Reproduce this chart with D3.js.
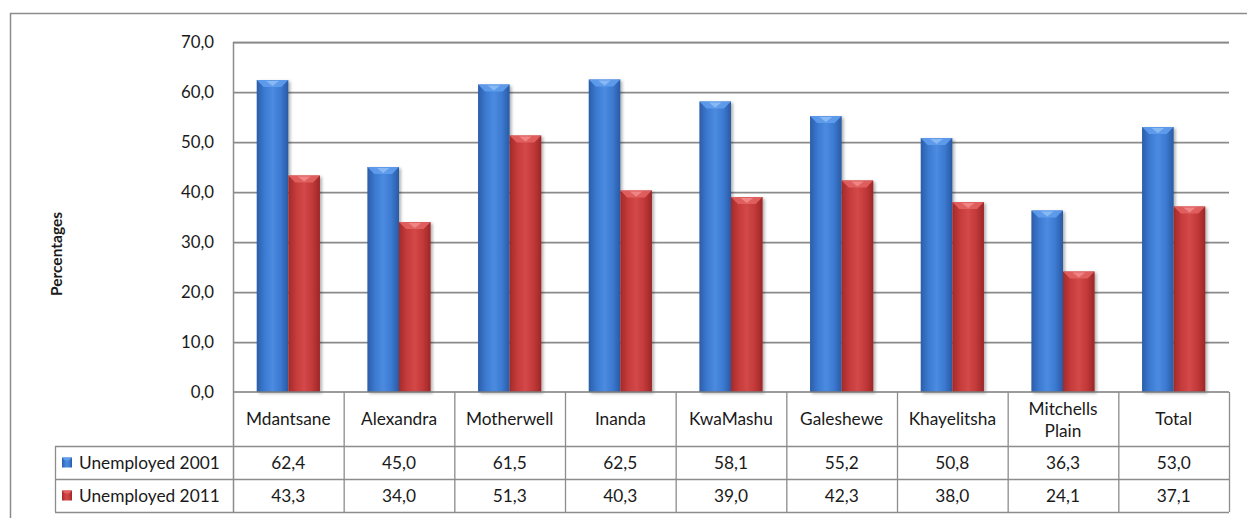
<!DOCTYPE html>
<html><head><meta charset="utf-8">
<script src="https://cdn.jsdelivr.net/npm/d3@7"></script>
<style>
html,body{margin:0;padding:0;background:#fff;}
svg{display:block;}
text{font-family:Lato,"Open Sans",sans-serif;fill:#1a1a1a;}
</style></head>
<body>
<svg id="chart" width="1247" height="518"></svg>
<script>
const categories = ["Mdantsane","Alexandra","Motherwell","Inanda","KwaMashu","Galeshewe","Khayelitsha","Mitchells Plain","Total"];
const seriesNames = ["Unemployed 2001","Unemployed 2011"];
const values2001 = [62.4,45.0,61.5,62.5,58.1,55.2,50.8,36.3,53.0];
const values2011 = [43.3,34.0,51.3,40.3,39.0,42.3,38.0,24.1,37.1];
const yTicks = [0,10,20,30,40,50,60,70];
const yTitle = "Percentages";

(function(){
const series = [values2001, values2011];
const svg = d3.select("#chart");
const pLeft = 233, pRight = 1229, pTop = 42, pBottom = 392;
const tableLeft = 55, row1 = 446, row2 = 479, row3 = 512;
const fs = "17.3px";
const loc = d3.formatLocale({decimal:",", thousands:".", grouping:[3], currency:["",""]});
const fmt = loc.format(".1f");

const defs = svg.append("defs");
const palettes = [
  {id:"gBlue", stops:["#2b5da8","#3c7ad2","#4b8be0","#3c7ad2","#2a5aa2"], bevel:"#609ded", bevelTip:"#93c0f4"},
  {id:"gRed", stops:["#a32a2a","#c63b3b","#d34848","#c33939","#9c2727"], bevel:"#e26262", bevelTip:"#f28e8e"}
];
palettes.forEach(p=>{
  const g = defs.append("linearGradient").attr("id",p.id).attr("x1","0").attr("x2","1").attr("y1","0").attr("y2","0");
  p.stops.forEach((c,i)=>g.append("stop").attr("offset",(i/(p.stops.length-1)*100)+"%").attr("stop-color",c));
});
const f = defs.append("filter").attr("id","shadow").attr("x","-20%").attr("y","-5%").attr("width","150%").attr("height","115%");
f.append("feDropShadow").attr("dx",2).attr("dy",1.5).attr("stdDeviation",1.8).attr("flood-color","#000").attr("flood-opacity",0.3);

// outer border
svg.append("rect").attr("x",10.5).attr("y",13.5).attr("width",1260).attr("height",530)
  .attr("fill","none").attr("stroke","#8c8c8c").attr("stroke-width",1.5);

const x0 = d3.scaleBand().domain(categories).range([pLeft,pRight]).padding(0);
const x1 = d3.scaleBand().domain(seriesNames).range([0,x0.bandwidth()]).paddingInner(0).paddingOuter(0.75);
const y = d3.scaleLinear().domain([0,70]).range([pBottom,pTop]);

// gridlines
const grid = svg.append("g");
yTicks.filter(t=>t>0).forEach(t=>{
  grid.append("line").attr("x1",pLeft).attr("x2",pRight).attr("y1",y(t)+1.5).attr("y2",y(t)+1.5)
    .attr("stroke","#d8d8d8").attr("stroke-width",1);
  grid.append("line").attr("x1",pLeft).attr("x2",pRight).attr("y1",y(t)+0.5).attr("y2",y(t)+0.5)
    .attr("stroke","#8a8a8a").attr("stroke-width",1.3);
});

// y axis labels
const yAxis = d3.axisLeft(y).tickValues(yTicks).tickFormat(fmt).tickSize(0).tickPadding(0);
const ya = svg.append("g").attr("transform",`translate(214,0)`).call(yAxis);
ya.select(".domain").remove();
ya.selectAll("text").style("font-family","Lato,sans-serif").style("font-size","16.8px").attr("fill","#1a1a1a").attr("dy","0.35em");

// bars
series.forEach((vals,si)=>{
  const p = palettes[si];
  const g = svg.append("g");
  categories.forEach((c,i)=>{
    const bx = x0(c)+x1(seriesNames[si]);
    const bw = x1.bandwidth();
    const by = y(vals[i]);
    const bh = y(0)-by;
    g.append("rect").attr("x",bx).attr("y",by).attr("width",bw).attr("height",bh)
      .attr("fill",`url(#${p.id})`).attr("filter","url(#shadow)");
    const bv = 7;
    g.append("path").attr("d",`M${bx},${by} L${bx+bw},${by} L${bx+bw-bv},${by+bv} L${bx+bv},${by+bv} Z`)
      .attr("fill",p.bevel).attr("opacity",0.9);
    g.append("path").attr("d",`M${bx+bw*0.3},${by+1} L${bx+bw*0.7},${by+1} L${bx+bw*0.5},${by+bv-1} Z`)
      .attr("fill",p.bevelTip).attr("opacity",0.8);
  });
});

// table
const tcol = "#8c8c8c";
const tg = svg.append("g");
tg.append("line").attr("x1",pLeft).attr("x2",pRight).attr("y1",pBottom).attr("y2",pBottom).attr("stroke","#7a7a7a").attr("stroke-width",1.5);
[row1,row2,row3].forEach(yy=>{
  tg.append("line").attr("x1",tableLeft).attr("x2",pRight).attr("y1",yy+0.5).attr("y2",yy+0.5).attr("stroke",tcol).attr("stroke-width",1.3);
});
tg.append("line").attr("x1",pLeft+0.5).attr("x2",pLeft+0.5).attr("y1",pTop).attr("y2",row3).attr("stroke",tcol).attr("stroke-width",1.5);
tg.append("line").attr("x1",tableLeft+0.5).attr("x2",tableLeft+0.5).attr("y1",row1).attr("y2",row3).attr("stroke",tcol).attr("stroke-width",1.3);
categories.forEach(c=>{
  const xr = x0(c)+x0.bandwidth();
  tg.append("line").attr("x1",xr+0.5).attr("x2",xr+0.5).attr("y1",pBottom).attr("y2",row3).attr("stroke",tcol).attr("stroke-width",1.3);
});
tg.append("line").attr("x1",pLeft).attr("x2",pRight).attr("y1",pTop+0.5).attr("y2",pTop+0.5).attr("stroke","#8a8a8a").attr("stroke-width",1.3);

// category labels
categories.forEach(c=>{
  const cx = x0(c)+x0.bandwidth()/2;
  const words = c.split(" ");
  const t = tg.append("text").attr("x",cx).attr("text-anchor","middle").style("font-size",fs);
  if(words.length>1){
    words.forEach((w,k)=>t.append("tspan").attr("x",cx).attr("y",(pBottom+row1)/2 + (k===0?-10:12)).attr("dy","0.35em").text(w));
  } else {
    t.attr("y",(pBottom+row1)/2).attr("dy","0.35em").text(c);
  }
});
// legend rows + values
const rowsY = [(row1+row2)/2,(row2+row3)/2];
series.forEach((vals,si)=>{
  const p = palettes[si];
  const ry = rowsY[si];
  tg.append("rect").attr("x",62).attr("y",ry-5).attr("width",10).attr("height",10).attr("fill",`url(#${p.id})`);
  tg.append("path").attr("d",`M62,${ry-5} L72,${ry-5} L69,${ry-2} L65,${ry-2} Z`).attr("fill",p.bevel);
  tg.append("text").attr("x",79).attr("y",ry).attr("dy","0.35em").style("font-size",fs).text(seriesNames[si]);
  categories.forEach((c,i)=>{
    tg.append("text").attr("x",x0(c)+x0.bandwidth()/2).attr("y",ry).attr("dy","0.35em")
      .attr("text-anchor","middle").style("font-size",fs).text(fmt(vals[i]));
  });
});

// y title
svg.append("text").attr("transform",`translate(62,254) rotate(-90)`).attr("text-anchor","middle")
  .style("font-size","15.5px").style("font-weight","bold").text(yTitle);
})();
</script>
</body></html>
